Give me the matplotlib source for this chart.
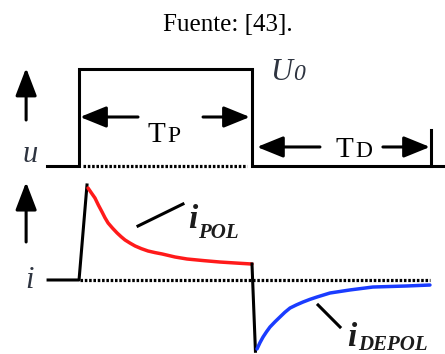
"""Polarization / depolarization current schematic (PDC test)."""

import matplotlib
matplotlib.use("Agg")
import matplotlib.pyplot as plt

# time axis: pulse switched on at t=0, off at t=T_P=1
t_min, t_max = -0.457, 2.116

# applied voltage u(t), normalised to U0
pulse_t = [-0.185, 0.0, 0.0, 1.0, 1.0, 2.116]
pulse_u = [0.0, 0.0, 1.0, 1.0, 0.0, 0.0]
td_end = 2.035          # end marker of T_D
td_tick_height = 0.37

# current i(t), normalised to the charging peak
rise_t = [-0.179, 0.0, 0.046]
rise_i = [0.0, 0.0, 1.0]
pol_t = [0.052, 0.072, 0.092, 0.112, 0.133, 0.150, 0.168, 0.194, 0.220,
         0.243, 0.266, 0.295, 0.324, 0.360, 0.399, 0.440, 0.480, 0.555,
         0.624, 0.720, 0.815, 0.910, 1.0]
pol_i = [0.968, 0.915, 0.863, 0.788, 0.716, 0.655, 0.600, 0.545, 0.495,
         0.456, 0.421, 0.388, 0.358, 0.330, 0.305, 0.288, 0.274, 0.242,
         0.221, 0.204, 0.189, 0.178, 0.168]
fall_t = [1.0, 1.02]
fall_i = [0.168, -0.75]
depol_t = [1.029, 1.046, 1.064, 1.084, 1.104, 1.133, 1.162, 1.190, 1.220,
           1.257, 1.295, 1.335, 1.376, 1.451, 1.566, 1.699, 1.896, 2.029]
depol_i = [-0.726, -0.660, -0.600, -0.545, -0.495, -0.440, -0.389, -0.340,
           -0.295, -0.262, -0.232, -0.204, -0.179, -0.137, -0.105, -0.074,
           -0.063, -0.053]

SERIF = "Liberation Serif"
LW = 2.2
DOT = (0, (0.8, 0.55))

fig = plt.figure(figsize=(4.45, 3.54), dpi=100)
ax_u = fig.add_axes([0, 0, 1, 1])
ax_i = fig.add_axes([0, 0, 1, 1])
for ax in (ax_u, ax_i):
    ax.set_xlim(t_min, t_max)
    ax.axis("off")
    ax.patch.set_alpha(0)
ax_u.set_ylim(-1.938, 1.711)
ax_i.set_ylim(-0.779, 2.947)


def arrow(ax, tail, tip, hl=16, hw=13):
    ax.annotate("", xy=tip, xytext=tail,
                arrowprops=dict(arrowstyle=f"-|>,head_length={hl},head_width={hw / 2}",
                                mutation_scale=1, lw=LW, color="black",
                                shrinkA=0, shrinkB=0))


# ---- voltage panel ----
ax_u.plot(pulse_t, pulse_u, color="black", lw=LW, solid_joinstyle="miter")
ax_u.plot([0.023, 0.971], [0, 0], color="black", lw=2.3, linestyle=DOT)
ax_u.plot([td_end, td_end], [0, td_tick_height], color="black", lw=LW)

arrow(ax_u, (-0.306, 0.474), (-0.306, 1.01), hl=17, hw=13)
arrow(ax_u, (0.341, 0.505), (0.006, 0.505))
arrow(ax_u, (0.717, 0.505), (0.988, 0.505))
arrow(ax_u, (1.393, 0.196), (1.029, 0.196))
arrow(ax_u, (1.757, 0.196), (2.029, 0.196))

ax_u.text(-0.329, 0.04, "u", family=SERIF, style="italic", fontsize=22,
          color="#2e3440", va="baseline")
ax_u.text(1.104, 0.887, "U", family=SERIF, style="italic", fontsize=22,
          color="#2e3440", va="baseline")
ax_u.text(1.235, 0.887, "0", family=SERIF, style="italic", fontsize=17,
          color="#2e3440", va="baseline")
ax_u.text(0.393, 0.247, "T", family=SERIF, fontsize=21, va="baseline")
ax_u.text(0.512, 0.247, "P", family=SERIF, fontsize=17, va="baseline")
ax_u.text(1.48, 0.093, "T", family=SERIF, fontsize=21, va="baseline")
ax_u.text(1.595, 0.093, "D", family=SERIF, fontsize=17, va="baseline")

# ---- current panel ----
ax_i.plot(rise_t, rise_i, color="black", lw=LW)
ax_i.plot(pol_t, pol_i, color="#ff1a1a", lw=LW + 0.3, solid_capstyle="round")
ax_i.plot(fall_t, fall_i, color="black", lw=LW)
ax_i.plot(depol_t, depol_i, color="#1a3cff", lw=LW + 0.3, solid_capstyle="round")
ax_i.plot([0.006, 2.029], [0, 0], color="black", lw=2.3, linestyle=DOT)

arrow(ax_i, (-0.306, 0.40), (-0.306, 1.03), hl=17, hw=13)

ax_i.plot([0.341, 0.601], [0.568, 0.80], color="black", lw=LW)
ax_i.plot([1.382, 1.509], [-0.263, -0.495], color="black", lw=LW)

ax_i.text(-0.312, -0.084, "i", family=SERIF, style="italic", fontsize=22,
          color="#2e3440", va="baseline")
ax_i.text(0.63, 0.547, "i", family=SERIF, style="italic", weight="bold",
          fontsize=24, va="baseline", color="#1c1c1c")
ax_i.text(0.688, 0.442, "POL", family=SERIF, style="italic", weight="bold",
          fontsize=15, va="baseline", color="#1c1c1c")
ax_i.text(1.549, -0.690, "i", family=SERIF, style="italic", weight="bold",
          fontsize=24, va="baseline", color="#1c1c1c")
ax_i.text(1.612, -0.735, "DEPOL", family=SERIF, style="italic", weight="bold",
          fontsize=15, va="baseline", color="#1c1c1c")

fig.text(0.512, 1 - 31 / 354, "Fuente: [43].", family=SERIF, fontsize=18,
         ha="center", va="baseline")

fig.savefig("out.png", dpi=100)
